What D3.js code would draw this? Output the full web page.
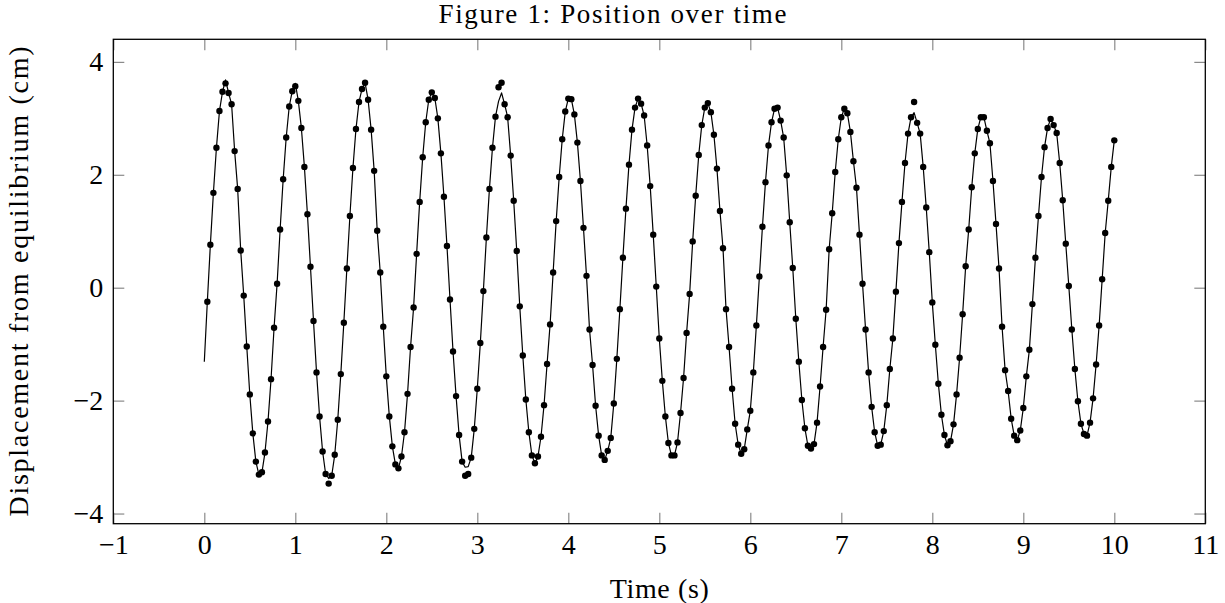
<!DOCTYPE html>
<html>
<head>
<meta charset="utf-8">
<script src="https://cdn.jsdelivr.net/npm/d3@7"></script>
<style>
	body { margin: 0; background: #fff; }
	svg { display: block; }
	text { font-family: "Liberation Serif", "DejaVu Serif", serif; fill: #000; }
</style>
</head>
<body>
<div id="chart"></div>
<script>

var dt = 1 / 30;		// sample step (s), first sample at dt

// measured displacement (cm), one value per frame
var displacement = [
	-0.25, 0.76, 1.68, 2.48, 3.13, 3.47, 3.62, 3.45, 3.25, 2.42,
	1.75, 0.66, -0.14, -1.04, -1.89, -2.58, -3.08, -3.31, -3.27, -2.92,
	-2.37, -1.62, -0.71, 0.07, 1.03, 1.92, 2.66, 3.21, 3.48, 3.57,
	3.31, 2.83, 2.14, 1.30, 0.37, -0.59, -1.50, -2.28, -2.90, -3.30,
	-3.47, -3.33, -2.96, -2.34, -1.53, -0.62, 0.34, 1.27, 2.12, 2.81,
	3.29, 3.52, 3.63, 3.33, 2.80, 2.07, 1.01, 0.27, -0.69, -1.57,
	-2.28, -2.81, -3.13, -3.20, -2.99, -2.56, -1.88, -1.05, -0.35, 0.60,
	1.52, 2.31, 2.93, 3.33, 3.46, 3.36, 3.00, 2.38, 1.61, 0.74,
	-0.21, -1.13, -1.92, -2.61, -3.08, -3.33, -3.30, -3.01, -2.50, -1.79,
	-0.98, -0.06, 0.89, 1.75, 2.48, 3.03, 3.55, 3.63, 3.25, 3.02,
	2.34, 1.54, 0.65, -0.33, -1.20, -1.98, -2.56, -2.97, -3.11, -2.99,
	-2.64, -2.08, -1.35, -0.65, 0.27, 1.18, 1.96, 2.63, 3.12, 3.35,
	3.34, 3.07, 2.57, 1.89, 1.06, 0.21, -0.74, -1.37, -2.09, -2.62,
	-2.97, -3.05, -2.89, -2.66, -2.05, -1.26, -0.38, 0.53, 1.40, 2.18,
	2.80, 3.19, 3.35, 3.26, 3.05, 2.52, 1.80, 0.94, 0.02, -0.90,
	-1.65, -2.28, -2.75, -2.97, -2.97, -2.74, -2.22, -1.60, -0.80, -0.11,
	0.82, 1.63, 2.35, 2.88, 3.19, 3.27, 3.11, 2.71, 2.11, 1.36,
	0.70, -0.38, -1.05, -1.79, -2.41, -2.78, -2.94, -2.86, -2.51, -2.18,
	-1.50, -0.67, 0.20, 1.08, 1.87, 2.52, 2.93, 3.17, 3.19, 2.96,
	2.66, 1.99, 1.16, 0.35, -0.55, -1.31, -1.99, -2.49, -2.80, -2.85,
	-2.77, -2.39, -1.75, -1.05, -0.39, 0.68, 1.32, 2.05, 2.63, 3.02,
	3.17, 3.09, 2.76, 2.24, 1.77, 0.94, 0.07, -0.74, -1.50, -2.11,
	-2.56, -2.80, -2.78, -2.54, -2.08, -1.44, -0.90, -0.07, 0.79, 1.52,
	2.21, 2.73, 3.02, 3.29, 2.92, 2.73, 2.14, 1.42, 0.63, -0.26,
	-1.01, -1.70, -2.25, -2.61, -2.79, -2.72, -2.42, -1.89, -1.24, -0.47,
	0.38, 1.03, 1.78, 2.38, 2.81, 3.02, 3.02, 2.78, 2.56, 1.89,
	1.13, 0.34, -0.69, -1.46, -1.83, -2.32, -2.62, -2.70, -2.53, -2.13,
	-1.57, -1.10, -0.29, 0.53, 1.27, 1.96, 2.49, 2.83, 2.99, 2.88,
	2.74, 2.21, 1.55, 0.78, 0.03, -0.74, -1.44, -2.01, -2.41, -2.59,
	-2.62, -2.39, -1.96, -1.36, -0.67, 0.15, 0.97, 1.54, 2.14, 2.61
];

// fitted curve: starts at t = 0, follows the samples except where it visibly departs
var fitStart = -1.31;
var fitAdjust = { 7: 3.68, 30: 3.62, 41: -3.38, 86: -3.18, 87: -3.17, 97: 3.30, 98: 3.45, 234: 3.10 };

var xTicks = d3.range(-1, 12);
var yTicks = [-4, -2, 0, 2, 4];
var xDomain = [-1, 11];
var yDomain = [-4.18, 4.40];

var title = "Figure 1: Position over time";
var xTitle = "Time (s)";
var yTitle = "Displacement from equilibrium (cm)";

function drawchart()	{

	const W = 1225, H = 603;
	const margin = { top: 39.3, right: 19.7, bottom: 79.3, left: 113.3 },
		width = W - margin.left - margin.right,
		height = H - margin.top - margin.bottom;

	var svg = d3.select("#chart").append("svg")
			.attr("width", W)
			.attr("height", H);

	var g = svg.append("g")
			.attr("transform", `translate(${margin.left},${margin.top})`);

	var x = d3.scaleLinear(xDomain, [0, width]);
	var y = d3.scaleLinear(yDomain, [height, 0]);

	var points = displacement.map((v, i) => ({ t: (i + 1) * dt, v: v }));
	var fit = [{ t: 0, v: fitStart }].concat(points.map((d, i) => ({ t: d.t, v: fitAdjust[i + 1] ?? d.v })));

	const tick = 11;

	function styleaxis(sel)	{
		sel.select(".domain").remove();
		sel.selectAll(".tick line").attr("stroke", "#8a8a8a").attr("stroke-width", 1.2);
		sel.selectAll(".tick text").attr("font-size", 28).attr("fill", "#000")
			.style("font-family", "'Liberation Serif', serif");
	}

	g.append("g")
		.attr("transform", `translate(0,${height})`)
		.call(d3.axisBottom(x).tickValues(xTicks).tickSizeInner(-tick).tickSizeOuter(0).tickPadding(10.4))
		.call(styleaxis);

	g.append("g")
		.call(d3.axisTop(x).tickValues(xTicks).tickSizeInner(-tick).tickSizeOuter(0).tickFormat(""))
		.call(styleaxis);

	g.append("g")
		.call(d3.axisLeft(y).tickValues(yTicks).tickSizeInner(-tick).tickSizeOuter(0).tickPadding(10))
		.call(styleaxis);

	g.append("g")
		.attr("transform", `translate(${width},0)`)
		.call(d3.axisRight(y).tickValues(yTicks).tickSizeInner(-tick).tickSizeOuter(0).tickFormat(""))
		.call(styleaxis);

	g.append("rect")
		.attr("width", width)
		.attr("height", height)
		.attr("fill", "none")
		.attr("stroke", "#000")
		.attr("stroke-width", 1.3);

	g.append("path")
		.datum(fit)
		.attr("fill", "none")
		.attr("stroke", "#000")
		.attr("stroke-width", 1.2)
		.attr("stroke-linejoin", "round")
		.attr("d", d3.line(d => x(d.t), d => y(d.v)));

	g.selectAll(".dot")
		.data(points)
		.join("circle")
			.attr("class", "dot")
			.attr("cx", d => x(d.t))
			.attr("cy", d => y(d.v))
			.attr("r", 3.2)
			.attr("fill", "#000");

	svg.append("text")
		.attr("x", W / 2)
		.attr("y", 23)
		.attr("text-anchor", "middle")
		.attr("font-size", 27)
		.attr("textLength", 348)
		.attr("lengthAdjust", "spacing")
		.text(title);

	svg.append("text")
		.attr("x", margin.left + width / 2)
		.attr("y", 598)
		.attr("text-anchor", "middle")
		.attr("font-size", 28)
		.attr("textLength", 99)
		.attr("lengthAdjust", "spacing")
		.text(xTitle);

	svg.append("text")
		.attr("transform", `translate(28,${margin.top + height / 2}) rotate(-90)`)
		.attr("text-anchor", "middle")
		.attr("font-size", 28)
		.attr("textLength", 470)
		.attr("lengthAdjust", "spacing")
		.text(yTitle);

}

drawchart();

</script>
</body>
</html>
